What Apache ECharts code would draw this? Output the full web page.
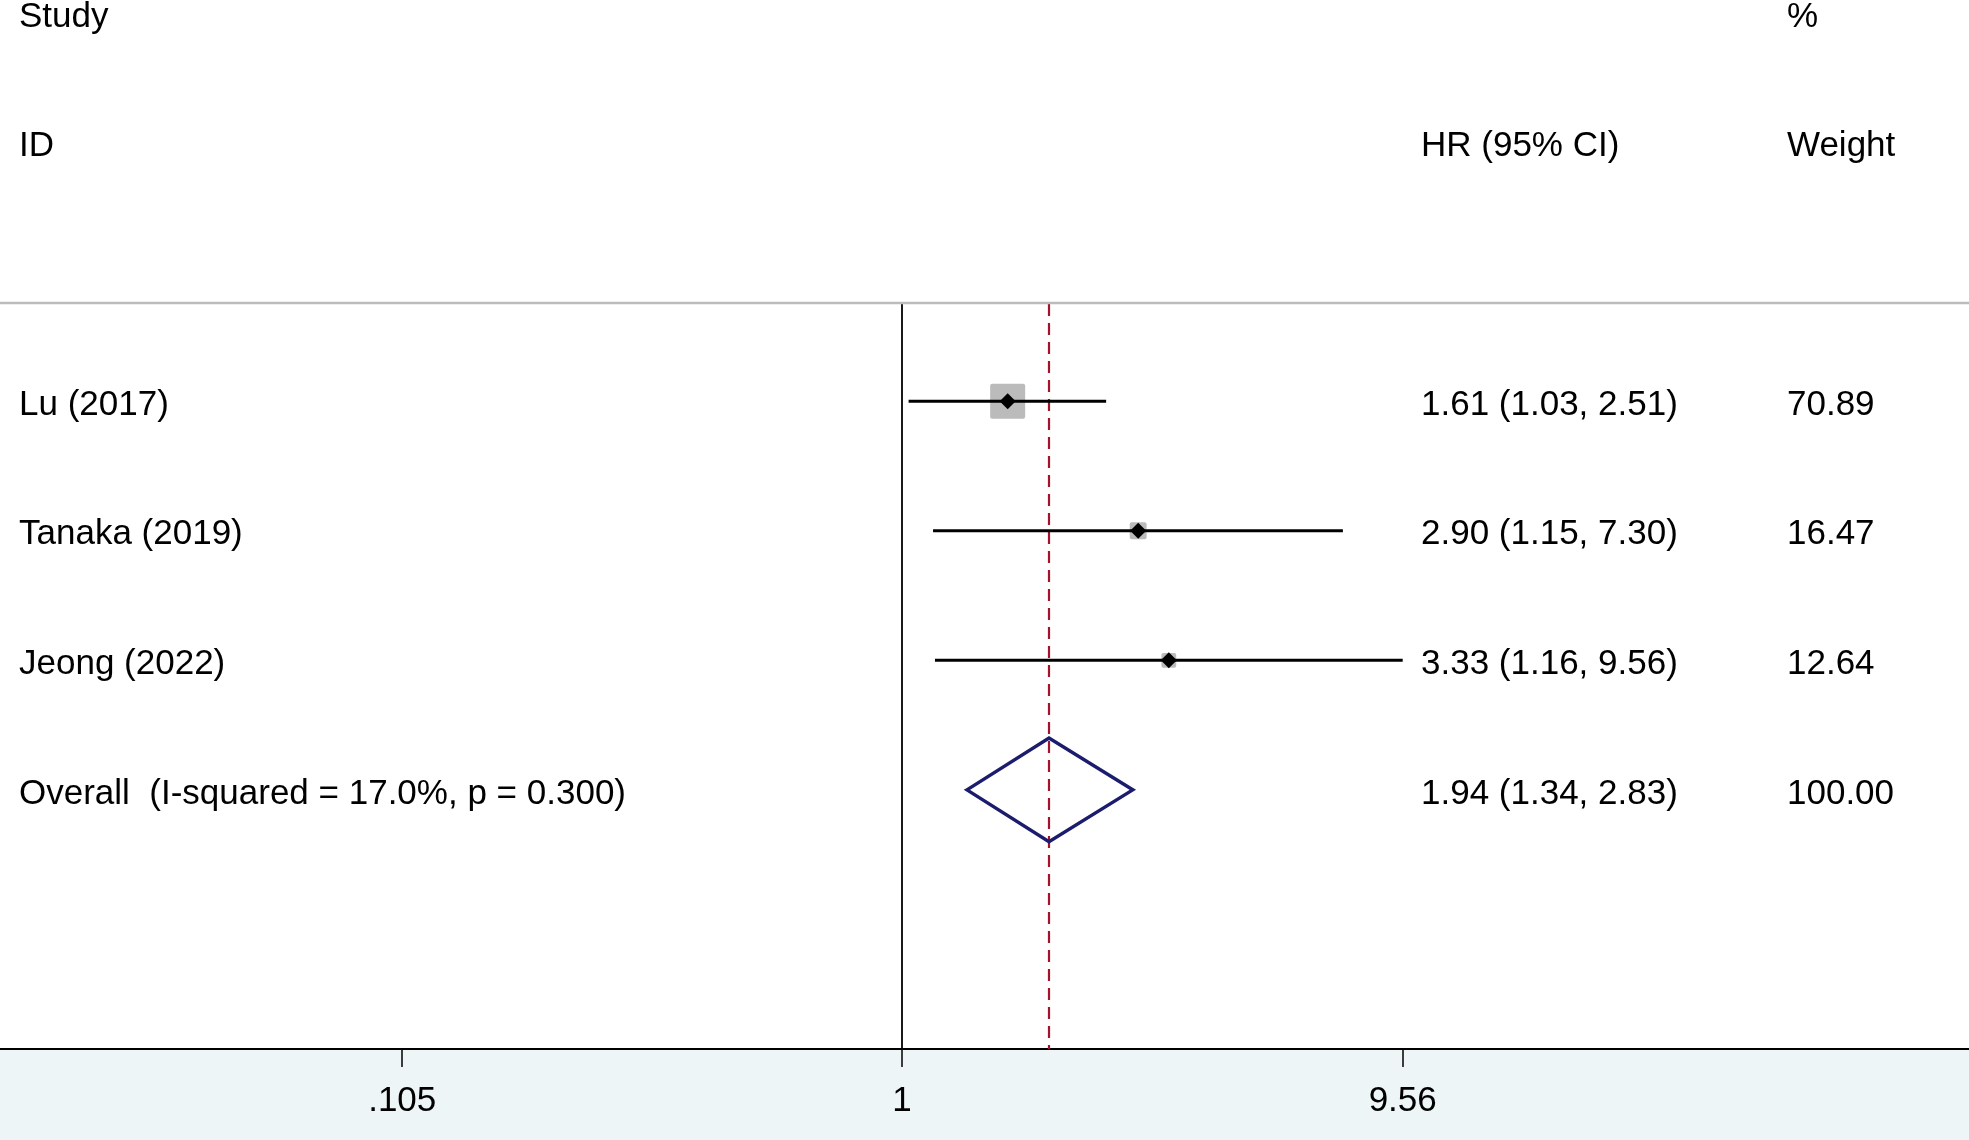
<!DOCTYPE html>
<html><head><meta charset="utf-8">
<script src="https://cdn.jsdelivr.net/npm/echarts@6/dist/echarts.min.js"></script>
<style>html,body{margin:0;padding:0;background:#fff}#c{width:1969px;height:1140px}</style>
</head><body><div id="c"></div>
<script>
// ---- data ----
const studies = ['Lu (2017)', 'Tanaka (2019)', 'Jeong (2022)'];
const hrs = [1.61, 2.90, 3.33];
const lowers = [1.03, 1.15, 1.16];
const uppers = [2.51, 7.30, 9.56];
const weights = [70.89, 16.47, 12.64];
const overallLabel = 'Overall  (I-squared = 17.0%, p = 0.300)';
const overallHR = 1.94;
const overallLower = 1.34;
const overallUpper = 2.83;
const overallWeight = 100.00;
const tickValues = [0.105, 1, 9.56];
const tickLabels = ['.105', '1', '9.56'];
const headerTop = ['Study', '', '%'];
const headerBottom = ['ID', 'HR (95% CI)', 'Weight'];

// ---- layout/style ----
const FONT = '"Liberation Sans", Arial, sans-serif';
const FS = 35;
const COL_X = [19, 1421, 1787];
const TEXT_DY = 4;
const GRID_TOP = 304, GRID_BOTTOM = 91, W = 1969, H = 1140;
const maxW = Math.max.apply(null, weights);

const studyData = studies.map((s, i) => [lowers[i], uppers[i], hrs[i], i + 1, weights[i]]);
const overallRow = studies.length + 1;

function fmt(v) { return v.toFixed(2); }
function ciText(h, l, u) { return fmt(h) + ' (' + fmt(l) + ', ' + fmt(u) + ')'; }

const chart = echarts.init(document.getElementById('c'), null, {renderer: 'canvas', width: W, height: H});

const textStyle = (x, y, t) => ({type: 'text', x: x, y: y + TEXT_DY, style: {text: t, font: FS + 'px ' + FONT, fill: '#000', textAlign: 'left', textVerticalAlign: 'middle'}});

const graphics = [
  {type: 'rect', z: -100, silent: true, shape: {x: 0, y: 0, width: W, height: H - GRID_BOTTOM}, style: {fill: '#ffffff'}},
  {type: 'line', z: 10, silent: true, shape: {x1: 0, y1: GRID_TOP - 1, x2: W, y2: GRID_TOP - 1}, style: {stroke: '#bcbcbc', lineWidth: 2.5}}
];
headerTop.forEach((t, i) => { if (t) graphics.push(Object.assign(textStyle(COL_X[i], 13, t), {z: 10})); });
headerBottom.forEach((t, i) => { if (t) graphics.push(Object.assign(textStyle(COL_X[i], 142.5, t), {z: 10})); });

chart.setOption({
  backgroundColor: '#EEF5F7',
  animation: false,
  graphic: graphics,
  grid: {left: 0, right: 0, top: GRID_TOP, bottom: GRID_BOTTOM, containLabel: false},
  xAxis: {
    type: 'log', logBase: Math.E,
    min: 0.01712, max: 122.87,
    splitLine: {show: false},
    axisLine: {show: true, lineStyle: {color: '#000', width: 2}},
    axisTick: {show: true, customValues: tickValues, length: 18, lineStyle: {color: '#000', width: 1.5}},
    axisLabel: {
      show: true, customValues: tickValues, margin: 35,
      fontFamily: FONT, fontSize: FS, color: '#000',
      formatter: function (v) {
        let best = 0, bd = Infinity;
        tickValues.forEach((t, i) => { const d = Math.abs(Math.log(t) - Math.log(v)); if (d < bd) { bd = d; best = i; } });
        return tickLabels[best];
      }
    },
    minorTick: {show: false}
  },
  yAxis: {type: 'value', inverse: true, min: 0.25, max: 6, show: false},
  series: [
    {
      type: 'custom', name: 'studies', z: 5,
      data: studyData,
      encode: {x: [0, 1, 2], y: 3},
      renderItem: function (params, api) {
        const row = api.value(3);
        const p0 = api.coord([api.value(0), row]);
        const p1 = api.coord([api.value(1), row]);
        const pc = api.coord([api.value(2), row]);
        const side = 35 * Math.sqrt(api.value(4) / maxW);
        const d = 8;
        return {type: 'group', children: [
          {type: 'rect', shape: {x: pc[0] - side / 2, y: pc[1] - side / 2, width: side, height: side, r: 2}, style: {fill: '#BBBBBB'}},
          {type: 'line', shape: {x1: p0[0], y1: p0[1], x2: p1[0], y2: p1[1]}, style: {stroke: '#000', lineWidth: 3}},
          {type: 'polygon', shape: {points: [[pc[0] - d, pc[1]], [pc[0], pc[1] - d], [pc[0] + d, pc[1]], [pc[0], pc[1] + d]]}, style: {fill: '#000'}}
        ]};
      }
    },
    {
      type: 'custom', name: 'overall', z: 6,
      data: [[overallLower, overallUpper, overallHR, overallRow]],
      encode: {x: [0, 1, 2], y: 3},
      renderItem: function (params, api) {
        const row = api.value(3);
        const l = api.coord([api.value(0), row]);
        const u = api.coord([api.value(1), row]);
        const t = api.coord([api.value(2), row - 0.4]);
        const b = api.coord([api.value(2), row + 0.4]);
        return {type: 'polygon', shape: {points: [l, t, u, b]}, style: {fill: 'none', stroke: '#1C1C6E', lineWidth: 3.5, lineJoin: 'miter'}};
      },
      markLine: {
        silent: true, symbol: 'none', label: {show: false},
        data: [
          {xAxis: overallHR, lineStyle: {color: '#A5122C', width: 2.2, type: [12, 7]}},
          {xAxis: 1, lineStyle: {color: '#000', width: 1.8, type: 'solid'}}
        ]
      }
    },
    {
      type: 'custom', name: 'text', z: 7,
      data: studies.map((s, i) => [1, i + 1]).concat([[1, overallRow]]),
      encode: {x: 0, y: 1},
      renderItem: function (params, api) {
        const i = params.dataIndex;
        const y = api.coord([1, api.value(1)])[1];
        const isO = i >= studies.length;
        const lbl = isO ? overallLabel : studies[i];
        const ci = isO ? ciText(overallHR, overallLower, overallUpper) : ciText(hrs[i], lowers[i], uppers[i]);
        const w = isO ? fmt(overallWeight) : fmt(weights[i]);
        return {type: 'group', children: [
          textStyle(COL_X[0], y, lbl), textStyle(COL_X[1], y, ci), textStyle(COL_X[2], y, w)
        ]};
      }
    }
  ]
});
</script></body></html>
